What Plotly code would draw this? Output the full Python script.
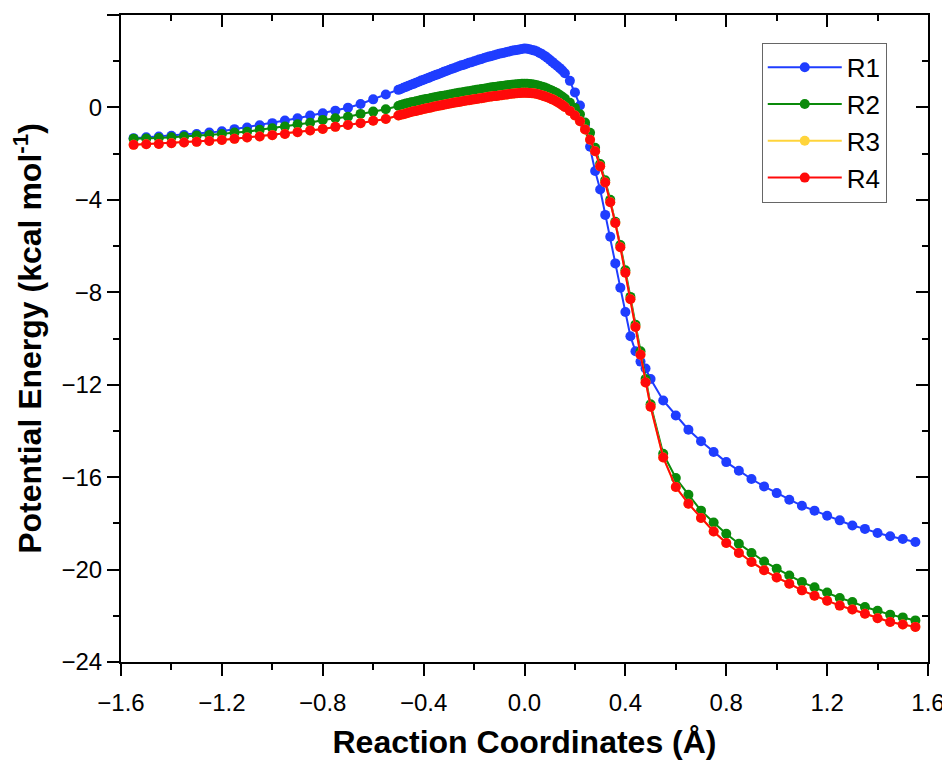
import plotly.graph_objects as go

# reaction coordinate (Å)
x_left = [-1.55, -1.50, -1.45, -1.40, -1.35, -1.30, -1.25, -1.20, -1.15, -1.10, -1.05,
          -1.00, -0.95, -0.90, -0.85, -0.80, -0.75, -0.70, -0.65, -0.60, -0.55, -0.50]
x_dense = [-0.49, -0.48, -0.47, -0.46, -0.45, -0.44, -0.43, -0.42, -0.41, -0.40,
           -0.39, -0.38, -0.37, -0.36, -0.35, -0.34, -0.33, -0.32, -0.31, -0.30,
           -0.29, -0.28, -0.27, -0.26, -0.25, -0.24, -0.23, -0.22, -0.21, -0.20,
           -0.19, -0.18, -0.17, -0.16, -0.15, -0.14, -0.13, -0.12, -0.11, -0.10,
           -0.09, -0.08, -0.07, -0.06, -0.05, -0.04, -0.03, -0.02, -0.01, 0.00,
           0.01, 0.02, 0.03, 0.04, 0.05, 0.06, 0.07, 0.08, 0.09, 0.10,
           0.11, 0.12, 0.13, 0.14, 0.15, 0.16]
x_mid = [0.18, 0.20, 0.22, 0.24, 0.26, 0.28, 0.30, 0.32, 0.34, 0.36, 0.38, 0.40,
         0.42, 0.44, 0.46, 0.48, 0.50]
x_tail = [0.55, 0.60, 0.65, 0.70, 0.75, 0.80, 0.85, 0.90, 0.95, 1.00, 1.05,
          1.10, 1.15, 1.20, 1.25, 1.30, 1.35, 1.40, 1.45, 1.50, 1.55]

# potential energy (kcal/mol)
r1_left = [-1.33, -1.29, -1.26, -1.23, -1.19, -1.15, -1.09, -1.03, -0.94, -0.87, -0.77,
           -0.68, -0.57, -0.47, -0.35, -0.25, -0.14, -0.01, 0.15, 0.35, 0.56, 0.76]
r1_dense = [0.80, 0.85, 0.89, 0.94, 0.98, 1.02, 1.07, 1.11, 1.16, 1.20,
            1.24, 1.28, 1.33, 1.37, 1.41, 1.45, 1.49, 1.54, 1.58, 1.62,
            1.66, 1.70, 1.74, 1.78, 1.82, 1.85, 1.89, 1.93, 1.96, 2.00,
            2.03, 2.07, 2.10, 2.14, 2.17, 2.20, 2.23, 2.26, 2.29, 2.32,
            2.35, 2.37, 2.40, 2.42, 2.45, 2.47, 2.49, 2.51, 2.53, 2.55,
            2.54, 2.52, 2.49, 2.46, 2.42, 2.36, 2.30, 2.23, 2.15, 2.06,
            1.97, 1.88, 1.79, 1.70, 1.60, 1.48]
r1_mid = [1.15, 0.65, 0.08, -0.75, -1.70, -2.75, -3.55, -4.65, -5.60, -6.75, -7.80,
          -8.85, -9.90, -10.55, -11.00, -11.30, -11.75]
r1_tail = [-12.68, -13.33, -13.95, -14.45, -14.91, -15.35, -15.72, -16.08, -16.40, -16.69,
           -16.98, -17.24, -17.45, -17.67, -17.87, -18.09, -18.24, -18.42, -18.56, -18.68, -18.81]

r2_left = [-1.36, -1.35, -1.32, -1.29, -1.26, -1.22, -1.19, -1.15, -1.09, -1.05, -0.97,
           -0.90, -0.83, -0.73, -0.66, -0.54, -0.47, -0.40, -0.28, -0.18, -0.08, 0.06]
r2_dense = [0.11, 0.14, 0.17, 0.19, 0.22, 0.24, 0.27, 0.29, 0.32, 0.34,
            0.36, 0.38, 0.41, 0.43, 0.45, 0.47, 0.49, 0.51, 0.53, 0.55,
            0.57, 0.59, 0.61, 0.63, 0.65, 0.67, 0.69, 0.70, 0.72, 0.74,
            0.76, 0.78, 0.80, 0.81, 0.83, 0.85, 0.87, 0.88, 0.90, 0.92,
            0.93, 0.94, 0.96, 0.97, 0.98, 0.99, 1.00, 1.01, 1.02, 1.02,
            1.02, 1.01, 1.00, 0.98, 0.96, 0.93, 0.90, 0.86, 0.82, 0.77,
            0.72, 0.67, 0.61, 0.54, 0.46, 0.38]
r2_mid = [0.20, -0.02, -0.30, -0.65, -1.10, -1.75, -2.45, -3.15, -4.00, -4.95, -5.95,
          -7.05, -8.20, -9.40, -10.55, -11.75, -12.85]
r2_tail = [-14.99, -16.04, -16.76, -17.45, -17.96, -18.45, -18.88, -19.28, -19.65, -19.96,
           -20.26, -20.54, -20.77, -20.99, -21.23, -21.40, -21.62, -21.78, -21.95, -22.07, -22.20]

r4_left = [-1.62, -1.59, -1.58, -1.55, -1.52, -1.49, -1.45, -1.41, -1.36, -1.30, -1.26,
           -1.20, -1.15, -1.07, -1.00, -0.93, -0.84, -0.76, -0.68, -0.58, -0.50, -0.35]
r4_dense = [-0.32, -0.29, -0.26, -0.23, -0.20, -0.17, -0.15, -0.12, -0.10, -0.07,
            -0.05, -0.02, 0.00, 0.03, 0.05, 0.07, 0.09, 0.12, 0.14, 0.16,
            0.18, 0.20, 0.22, 0.24, 0.26, 0.28, 0.30, 0.31, 0.33, 0.35,
            0.37, 0.39, 0.40, 0.42, 0.44, 0.46, 0.47, 0.49, 0.50, 0.52,
            0.53, 0.55, 0.56, 0.58, 0.59, 0.60, 0.61, 0.62, 0.63, 0.63,
            0.63, 0.62, 0.61, 0.60, 0.58, 0.55, 0.52, 0.48, 0.44, 0.40,
            0.35, 0.30, 0.24, 0.17, 0.10, 0.02]
r4_mid = [-0.15, -0.35, -0.60, -0.95, -1.40, -1.90, -2.55, -3.25, -4.10, -5.00, -6.05,
          -7.15, -8.30, -9.50, -10.70, -11.90, -12.95]
r4_tail = [-15.15, -16.43, -17.15, -17.77, -18.35, -18.85, -19.28, -19.67, -20.03, -20.34,
           -20.61, -20.90, -21.13, -21.35, -21.56, -21.73, -21.91, -22.11, -22.27, -22.38, -22.48]

# R3 sits underneath R4 for the whole path
r3_left, r3_dense, r3_mid, r3_tail = r4_left, r4_dense, r4_mid, r4_tail

x_all = x_left + x_dense + x_mid + x_tail
series = [
    ("R1", r1_left + r1_dense + r1_mid + r1_tail, "#1f3dff"),
    ("R2", r2_left + r2_dense + r2_mid + r2_tail, "#0a8a0a"),
    ("R3", r3_left + r3_dense + r3_mid + r3_tail, "#ffd43b"),
    ("R4", r4_left + r4_dense + r4_mid + r4_tail, "#ff0a0a"),
]

FONT = "Arial, Liberation Sans, sans-serif"

fig = go.Figure()
for name, y, color in series:
    fig.add_trace(go.Scatter(
        x=x_all, y=y, name=name, mode="lines+markers",
        line=dict(color=color, width=2),
        marker=dict(color=color, size=10),
    ))

# empty trace so the top/right tick axes get drawn
fig.add_trace(go.Scatter(x=[], y=[], xaxis="x2", yaxis="y2", showlegend=False, hoverinfo="skip"))

axis_common = dict(showgrid=False, zeroline=False, linecolor="black", linewidth=2,
                   tickcolor="black", tickwidth=2, ticklen=12, automargin=False)

# the page adds an 8px body margin, so the figure is 16px smaller than the window
fig.update_layout(
    width=942, height=757,
    margin=dict(l=113, r=22, t=7, b=103),
    plot_bgcolor="white", paper_bgcolor="white",
    font=dict(family=FONT, size=24, color="black"),
    xaxis=dict(range=[-1.6, 1.6], tick0=-1.6, dtick=0.4, tickformat=".1f",
               ticks="outside", showline=True, mirror=True, ticklabelstandoff=6,
               minor=dict(ticks="outside", ticklen=6, tickwidth=2, tickcolor="black", dtick=0.2),
               title=dict(text="<b>Reaction Coordinates (Å)</b>", font=dict(size=32), standoff=16),
               **axis_common),
    yaxis=dict(range=[-24, 4], tick0=-24, dtick=4,
               ticks="outside", showline=True, mirror=True,
               minor=dict(ticks="outside", ticklen=6, tickwidth=2, tickcolor="black", dtick=2),
               title=dict(text="<b>Potential Energy (kcal mol<sup>-1</sup>)</b>", font=dict(size=32), standoff=14),
               **axis_common),
    xaxis2=dict(overlaying="x", side="top", anchor="y2", range=[-1.6, 1.6], tick0=-1.6, dtick=0.4,
                ticks="inside", showticklabels=False, showline=False,
                minor=dict(ticks="inside", ticklen=6, tickwidth=2, tickcolor="black", dtick=0.2),
                **axis_common),
    yaxis2=dict(overlaying="y", side="right", anchor="x2", range=[-24, 4], tick0=-24, dtick=4,
                ticks="inside", showticklabels=False, showline=False,
                minor=dict(ticks="inside", ticklen=6, tickwidth=2, tickcolor="black", dtick=2),
                **axis_common),
    legend=dict(x=0.794, y=0.957, xanchor="left", yanchor="top",
                bordercolor="#666666", borderwidth=1, bgcolor="white",
                font=dict(size=26), itemwidth=74),
    showlegend=True,
)

fig.write_html("out.html")
